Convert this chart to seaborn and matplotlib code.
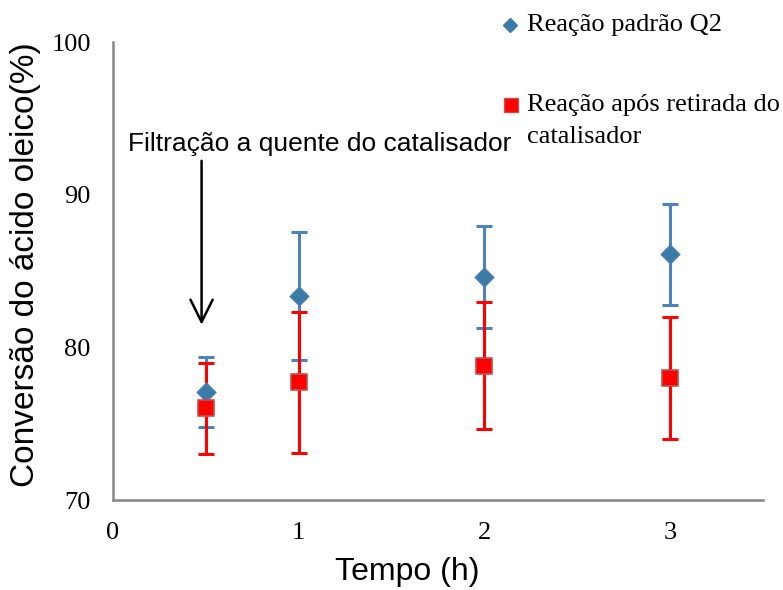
import numpy as np
import pandas as pd
import seaborn as sns
import matplotlib.pyplot as plt
from matplotlib.lines import Line2D

# --- data ---
tempo = [0.5, 1, 2, 3]
padrao_q2 = [77.1, 83.35, 84.6, 86.1]
padrao_q2_err = [2.3, 4.2, 3.35, 3.3]
apos_retirada = [76.0, 77.7, 78.8, 78.0]
apos_retirada_err = [3.0, 4.6, 4.15, 4.0]

label_q2 = "Reação padrão Q2"
label_ret = "Reação após retirada do\ncatalisador"

df = pd.DataFrame({
    "tempo": tempo * 2,
    "conv": padrao_q2 + apos_retirada,
    "err": padrao_q2_err + apos_retirada_err,
    "serie": [label_q2] * 4 + [label_ret] * 4,
})

sns.set_style("white", {"text.color": "black", "axes.labelcolor": "black",
                        "xtick.color": "black", "ytick.color": "black"})
plt.rcParams["font.family"] = ["Liberation Sans", "DejaVu Sans"]

blue_bar = "#4F81BD"
blue_mk = "#3B7BA8"
red = "#FF0000"
serif = ["Liberation Serif", "DejaVu Serif"]

fig = plt.figure(figsize=(7.83, 5.90), dpi=100)
ax = fig.add_axes([0.1443, 0.1525, 0.9745 - 0.1443, 0.9288 - 0.1525])

# 1. error bars (seaborn has no per-point errors, so matplotlib)
d1 = df[df.serie == label_q2]
d2 = df[df.serie == label_ret]
ax.errorbar(d1.tempo, d1.conv, yerr=d1.err, fmt="none", ecolor=blue_bar,
            elinewidth=2.2, capsize=6, capthick=2.2, zorder=2)
ax.errorbar(d2.tempo, d2.conv, yerr=d2.err, fmt="none", ecolor=red,
            elinewidth=2.2, capsize=6, capthick=2.2, zorder=2)

# 2. markers
sns.scatterplot(data=d1, x="tempo", y="conv", marker="D", color=blue_mk,
                s=95, edgecolor="#4F81BD", linewidth=0.8, legend=False,
                ax=ax, zorder=3)
sns.scatterplot(data=d2, x="tempo", y="conv", marker="s", color=red,
                s=140, edgecolor="#C0504D", linewidth=1.2, legend=False,
                ax=ax, zorder=4)

ax.set_xlim(0, 3.5)
ax.set_ylim(70, 100)
ax.set_xticks([0, 1, 2, 3])
ax.set_yticks([70, 80, 90, 100])
for lab in ax.get_xticklabels() + ax.get_yticklabels():
    lab.set_fontfamily(serif)
    lab.set_fontsize(19)
ax.tick_params(axis="x", length=0, pad=16)
ax.tick_params(axis="y", length=0, pad=16)

for s in ["top", "right"]:
    ax.spines[s].set_visible(False)
for s in ["left", "bottom"]:
    ax.spines[s].set_color("#868686")
    ax.spines[s].set_linewidth(1.8)

ax.set_xlabel("Tempo (h)", fontsize=23)
ax.set_ylabel("Conversão do ácido oleico(%)", fontsize=24)
ax.xaxis.set_label_coords(0.452, -0.157)
ax.yaxis.set_label_coords(-0.134, 0.513)
ax.xaxis.label.set_va("center")
ax.yaxis.label.set_va("center")

# 3. annotation
ax.text(0.08, 93.3, "Filtração a quente do catalisador", fontsize=19,
        ha="left", va="center", color="black")
ax.annotate("", xy=(0.477, 81.3), xytext=(0.477, 92.4),
            arrowprops=dict(arrowstyle="->", color="black", lw=1.8,
                            mutation_scale=40),
            annotation_clip=False)

# 4. legend drawn by hand to keep the reference spacing
W, H = 783, 590
fig.add_artist(Line2D([510 / W], [1 - 25 / H], marker="D", color=blue_mk,
                      markersize=7, linestyle="none"))
fig.text(527 / W, 1 - 25 / H, label_q2, fontsize=19, family=serif,
         ha="left", va="center", color="black")
fig.add_artist(Line2D([511 / W], [1 - 105 / H], marker="s", markerfacecolor=red,
                      markeredgecolor="#C0504D", markersize=10, linestyle="none"))
fig.text(527 / W, 1 - 105 / H, "Reação após retirada do", fontsize=19,
         family=serif, ha="left", va="center", color="black")
fig.text(527 / W, 1 - 137 / H, "catalisador", fontsize=19,
         family=serif, ha="left", va="center", color="black")

plt.savefig("out.png", dpi=100)
